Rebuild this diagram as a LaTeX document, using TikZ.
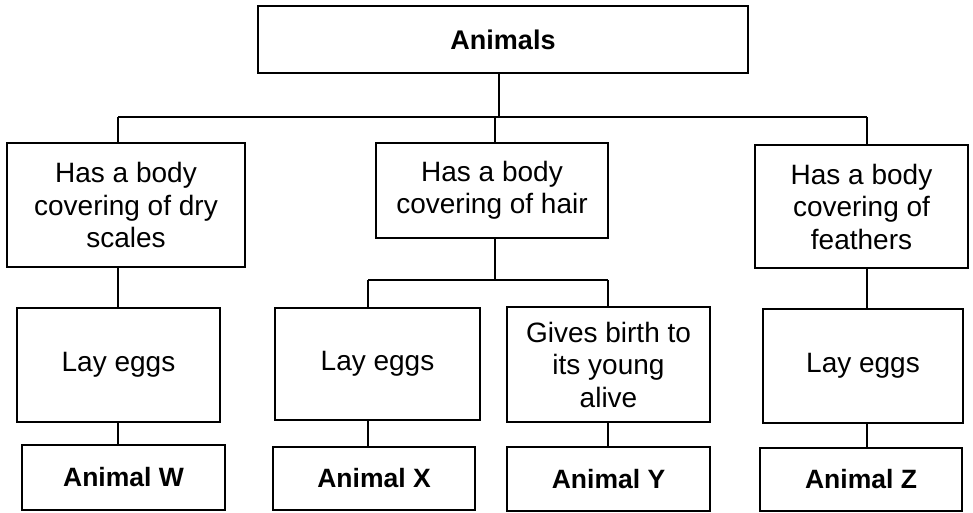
\documentclass[tikz,border=0pt]{standalone}
\usepackage{fontspec}
\setmainfont{Liberation Sans}
\begin{document}
\begin{tikzpicture}[x=1pt,y=-1pt,
  box/.style={draw=black,line width=1.6pt,inner sep=0pt,align=center,
    font=\fontsize{28}{32.5}\selectfont},
  bbox/.style={box,font=\fontsize{26.5}{30}\selectfont\bfseries},
  conn/.style={draw=black,line width=1.6pt}]
\useasboundingbox (0,0) rectangle (973,513);
% boxes
\node[bbox,minimum width=490pt,minimum height=67pt,font=\fontsize{27}{30}\selectfont\bfseries] (top) at (503,39.5) {Animals};
\node[box,minimum width=238pt,minimum height=124pt] (b1) at (126,205) {Has a body\\covering of dry\\scales};
\node[box,minimum width=232pt,minimum height=95pt] (b2) at (492,190.5) {Has a body\\covering of hair};
\node[box,minimum width=213pt,minimum height=123pt] (b3) at (861.5,206.5) {Has a body\\covering of\\feathers};
\node[box,minimum width=203pt,minimum height=114pt] (l1) at (118.5,365) {Lay eggs};
\node[box,minimum width=205pt,minimum height=112pt] (l2) at (377.5,364) {Lay eggs};
\node[box,minimum width=203pt,minimum height=115pt] (l3) at (608.5,364.5) {Gives birth to\\its young\\alive};
\node[box,minimum width=200pt,minimum height=114pt] (l4) at (863,366) {Lay eggs};
\node[bbox,minimum width=203pt,minimum height=65pt] (a1) at (123.5,477.5) {Animal W};
\node[bbox,minimum width=202pt,minimum height=63pt] (a2) at (374,478.5) {Animal X};
\node[bbox,minimum width=203pt,minimum height=64pt] (a3) at (608.5,479) {Animal Y};
\node[bbox,minimum width=202pt,minimum height=63pt] (a4) at (861,479.5) {Animal Z};
% junction coordinates
\coordinate (j0) at (499,117);
\coordinate (jl) at (118,117);
\coordinate (jm) at (495,117);
\coordinate (jr) at (867,117);
\coordinate (k0) at (495,280);
\coordinate (kl) at (368,280);
\coordinate (kr) at (608,280);
% connectors
\draw[conn] (top.south -| j0) -- (j0);
\draw[conn] (jl) -- (jr);
\draw[conn] (jl) -- (b1.north -| jl);
\draw[conn] (jm) -- (b2.north -| jm);
\draw[conn] (jr) -- (b3.north -| jr);
\draw[conn] (b1.south -| jl) -- (l1.north -| jl);
\draw[conn] (b2.south -| k0) -- (k0);
\draw[conn] (kl) -- (kr);
\draw[conn] (kl) -- (l2.north -| kl);
\draw[conn] (kr) -- (l3.north -| kr);
\draw[conn] (b3.south -| jr) -- (l4.north -| jr);
\draw[conn] (l1.south -| jl) -- (a1.north -| jl);
\draw[conn] (l2.south -| kl) -- (a2.north -| kl);
\draw[conn] (l3.south -| kr) -- (a3.north -| kr);
\draw[conn] (l4.south -| jr) -- (a4.north -| jr);
\end{tikzpicture}
\end{document}
